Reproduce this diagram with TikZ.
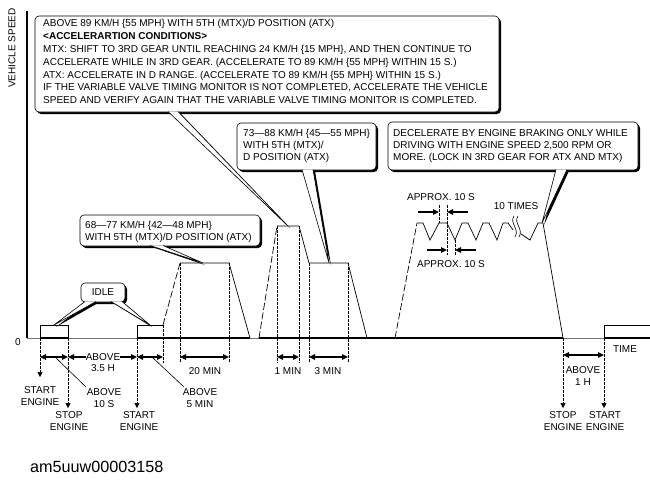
\documentclass[tikz,border=0pt]{standalone}
\usepackage{fontspec}
\setmainfont{Liberation Sans}
\usetikzlibrary{arrows.meta}
\tikzset{
  thinline/.style={line width=0.6pt},
  trace/.style={line width=0.7pt},
  rise/.style={line width=0.7pt, dash pattern=on 7pt off 2.5pt},
  guide/.style={line width=0.5pt, dash pattern=on 2.5pt off 1.5pt},
  axisthick/.style={line width=2pt},
  axisthin/.style={line width=0.6pt, black!55},
  tipA/.tip={Triangle[length=6pt,width=5.5pt]},
  dimR/.style={line width=2pt, -tipA},
  dimB/.style={line width=2pt, tipA-tipA},
  downarr/.style={guide, -{Triangle[length=5pt,width=5pt]}},
  lbl/.style={font=\fontsize{10}{12}\selectfont, inner sep=0pt, align=center},
  btxt/.style={font=\fontsize{10}{12}\selectfont, inner sep=0pt, align=left, anchor=north west},
}
\newcommand\boxshadow[4]{\begin{scope}[shift={(2,2)}]\fill[rounded corners=4pt] (#1,#2) rectangle (#3,#4);\end{scope}}
\newcommand\tipshadow[6]{\begin{scope}[shift={(2,2)}]\fill (#1,#2) -- (#3,#4) -- (#5,#6) -- cycle;\end{scope}}
\newcommand\boxbody[4]{\draw[thinline, fill=white, rounded corners=4pt] (#1,#2) rectangle (#3,#4);}
\newcommand\tipbody[6]{\fill[white] (#1,#2) -- (#3,#4) -- (#5,#6) -- cycle; \draw[thinline] (#1,#2) -- (#3,#4) -- (#5,#6);}
\begin{document}
\begin{tikzpicture}[x=1pt,y=-1pt]
\useasboundingbox (0,0) rectangle (650,490);
% axes
\draw[line width=1.5pt] (27,11) -- (27,338);
\node[lbl, rotate=90] (vs) at (12,48) {VEHICLE SPEED};
\node[lbl] (zero) at (18,342) {0};
\node[lbl] (time) at (625,349) {TIME};
% baseline
\draw[axisthin] (27,338) -- (40,338) (68,338) -- (137,338) (250,338) -- (259,338) (563,338) -- (604,338);
\draw[axisthick] (40,338) -- (68,338) (137,338) -- (250,338) (259,338) -- (563,338) (604,338) -- (650,338);
% speed trace
\draw[trace] (40,338) -- (40,325) -- (68,325) -- (68,338);
\draw[trace] (137,338) -- (137,325) -- (163,325);
\draw[rise] (163,325) -- (180,263);
\draw[trace] (180,263) -- (229,263) -- (250,338);
\draw[rise] (259,338) -- (277,226);
\draw[trace] (277,226) -- (299,226) -- (309,263) -- (348,263) -- (367,338);
\draw[rise] (395,338) -- (417,223);
\draw[trace] (417,223) -- (423,223) -- (430,240) -- (439,223) -- (447,223) -- (455,240) -- (462,223) -- (468,223) -- (476,240) -- (483,223) -- (489,223) -- (497,240) -- (503,223) -- (508,223) -- (513,230);
\draw[trace] (521,234) -- (530,240) -- (538,223) -- (543,223) -- (563,338);
\draw[trace] (604,338) -- (604,325) -- (650,325);
\draw[thinline] (514,216) .. controls (509,223) and (520,229) .. (515,237);
\draw[thinline] (518,216) .. controls (513,223) and (524,229) .. (519,237);
% guides
\draw[downarr] (40,338) -- (40,377);
\draw[downarr] (68,338) -- (68,408);
\draw[downarr] (137,338) -- (137,408);
\draw[guide] (163,325) -- (163,363);
\draw[guide] (180,263) -- (180,363);
\draw[guide] (229,263) -- (229,363);
\draw[guide] (277,226) -- (277,363);
\draw[guide] (299,226) -- (299,363);
\draw[guide] (309,263) -- (309,363);
\draw[guide] (348,263) -- (348,363);
\draw[downarr] (563,338) -- (563,408);
\draw[downarr] (604,338) -- (604,408);
% dimension arrows
\draw[dimB] (40,357) -- (68,357);
\draw[dimR] (86,357) -- (68,357);
\draw[dimR] (120,357) -- (137,357);
\node[lbl] (a35) at (103,357) {ABOVE};
\node[lbl] (h35) at (103,368) {3.5 H};
\draw[dimB] (137,357) -- (163,357);
\draw[dimB] (180,357) -- (229,357);
\node[lbl] (m20) at (205,371) {20 MIN};
\draw[dimB] (277,357) -- (299,357);
\node[lbl] (m1) at (288,371) {1 MIN};
\draw[dimB] (309,357) -- (348,357);
\node[lbl] (m3) at (328,371) {3 MIN};
\draw[dimB] (563,355) -- (604,355);
\node[lbl] (a1h) at (583,376) {ABOVE\\1 H};
% leaders
\draw[thinline] (55,357) -- (86,387);
\node[lbl] (a10) at (104,398) {ABOVE\\10 S};
\draw[thinline] (152,357) -- (184,387);
\node[lbl] (a5) at (200,398) {ABOVE\\5 MIN};
% engine labels
\node[lbl] (se1) at (40,396) {START\\ENGINE};
\node[lbl] (st1) at (69,421) {STOP\\ENGINE};
\node[lbl] (se2) at (139,421) {START\\ENGINE};
\node[lbl] (st2) at (563,421) {STOP\\ENGINE};
\node[lbl] (se3) at (605,421) {START\\ENGINE};
% approx annotations
\node[lbl] (ap1) at (441,197) {APPROX. 10 S};
\draw[guide] (439,205) -- (439,223);
\draw[guide] (447,205) -- (447,255);
\draw[guide] (455,240) -- (455,256);
\draw[dimR] (418,212) -- (439,212);
\draw[dimR] (468,212) -- (447,212);
\draw[dimR] (427,250) -- (447,250);
\draw[dimR] (476,250) -- (455,250);
\node[lbl] (ap2) at (451,264) {APPROX. 10 S};
\node[lbl] (t10) at (516,206) {10 TIMES};
% callout: big box
\boxshadow{35}{16}{499}{112}
\tipshadow{168}{111}{288}{226}{178}{111}
\boxbody{35}{16}{499}{112}
\tipbody{168}{111.5}{288}{226}{178}{111.5}
\node[btxt, font=\fontsize{10}{12.8}\selectfont] (big) at (43,19.5) {ABOVE 89 KM/H \{55 MPH\} WITH 5TH (MTX)/D POSITION (ATX)\\
\textbf{<ACCELERARTION CONDITIONS>}\\
MTX: SHIFT TO 3RD GEAR UNTIL REACHING 24 KM/H \{15 MPH\}, AND THEN CONTINUE TO\\
ACCELERATE WHILE IN 3RD GEAR. (ACCELERATE TO 89 KM/H \{55 MPH\} WITHIN 15 S.)\\
ATX: ACCELERATE IN D RANGE. (ACCELERATE TO 89 KM/H \{55 MPH\} WITHIN 15 S.)\\
IF THE VARIABLE VALVE TIMING MONITOR IS NOT COMPLETED, ACCELERATE THE VEHICLE\\
SPEED AND VERIFY AGAIN THAT THE VARIABLE VALVE TIMING MONITOR IS COMPLETED.};
% callout: 73-88
\boxshadow{237}{123}{376}{170}
\tipshadow{302}{169}{329}{263}{313}{169}
\boxbody{237}{123}{376}{170}
\tipbody{302}{169.5}{329}{263}{313}{169.5}
\node[btxt] (mid) at (243,129.4) {73—88 KM/H \{45—55 MPH\}\\WITH 5TH (MTX)/\\D POSITION (ATX)};
% callout: decelerate
\boxshadow{388}{122}{638}{170}
\tipshadow{556}{169}{542}{223}{567}{169}
\boxbody{388}{122}{638}{170}
\tipbody{556}{169.5}{542}{223}{567}{169.5}
\node[btxt] (dec) at (393,129.4) {DECELERATE BY ENGINE BRAKING ONLY WHILE\\DRIVING WITH ENGINE SPEED 2,500 RPM OR\\MORE. (LOCK IN 3RD GEAR FOR ATX AND MTX)};
% callout: 68-77
\boxshadow{80}{215}{260}{246}
\tipshadow{150}{245}{203}{263}{163}{245}
\boxbody{80}{215}{260}{246}
\tipbody{150}{245.5}{203}{263}{163}{245.5}
\node[btxt] (low) at (85,221) {68—77 KM/H \{42—48 MPH\}\\WITH 5TH (MTX)/D POSITION (ATX)};
% callout: idle
\boxshadow{81}{283}{125}{302}
\tipshadow{85}{301}{54}{325}{96}{301}
\tipshadow{111}{301}{150}{325}{122}{301}
\boxbody{81}{283}{125}{302}
\tipbody{85}{301.5}{54}{325}{96}{301.5}
\tipbody{111}{301.5}{150}{325}{122}{301.5}
\node[lbl] (idle) at (103,292.5) {IDLE};
% figure id
\node[font=\fontsize{16.2}{19}\selectfont, inner sep=0pt, anchor=west] (fid) at (30,467) {am5uuw00003158};
\end{tikzpicture}
\end{document}
